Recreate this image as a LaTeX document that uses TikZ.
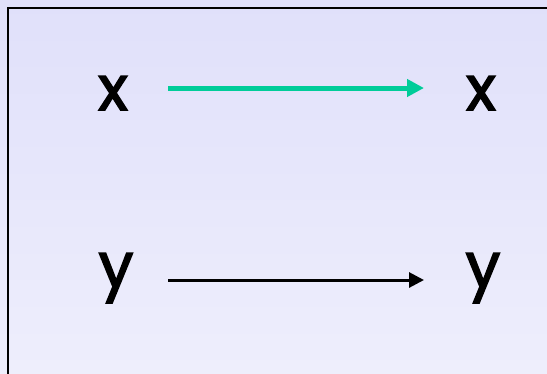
\documentclass[tikz,border=0pt]{standalone}
\usepackage{fontspec}
\setmainfont{Poppins}[FakeBold=2.5]
\usetikzlibrary{arrows.meta}
\definecolor{bgA}{HTML}{EEEEFC}
\definecolor{bgB}{HTML}{E0E0FA}
\definecolor{arrowgreen}{HTML}{00CC99}
\tikzset{
  letter/.style={inner sep=0pt, font=\fontsize{62}{62}\selectfont, text=black},
  greenarrow/.style={draw=arrowgreen, line width=5pt, -{Triangle[length=17pt,width=17pt]}},
  blackarrow/.style={draw=black, line width=3pt, -{Triangle[length=15pt,width=15pt]}},
}
\begin{document}
\begin{tikzpicture}[x=1pt,y=-1pt]
\useasboundingbox (0,0) rectangle (547,373);
\shade[shading angle=45, bottom color=bgA, top color=bgB] (0,0) rectangle (547,373);
\draw[line width=2pt] (8,380) -- (8,8) -- (555,8);
\node[letter, anchor=base] (x1) at (113,110) {x};
\node[letter, anchor=base] (x2) at (481,110) {x};
\node[letter, anchor=base] (y1) at (116,287) {y};
\node[letter, anchor=base] (y2) at (483,287) {y};
\coordinate (gs) at (168,88);
\coordinate (ge) at (424,88);
\coordinate (bs) at (168,280);
\coordinate (be) at (424,280);
\draw[greenarrow] (gs) -- (ge);
\draw[blackarrow] (bs) -- (be);
\end{tikzpicture}
\end{document}
